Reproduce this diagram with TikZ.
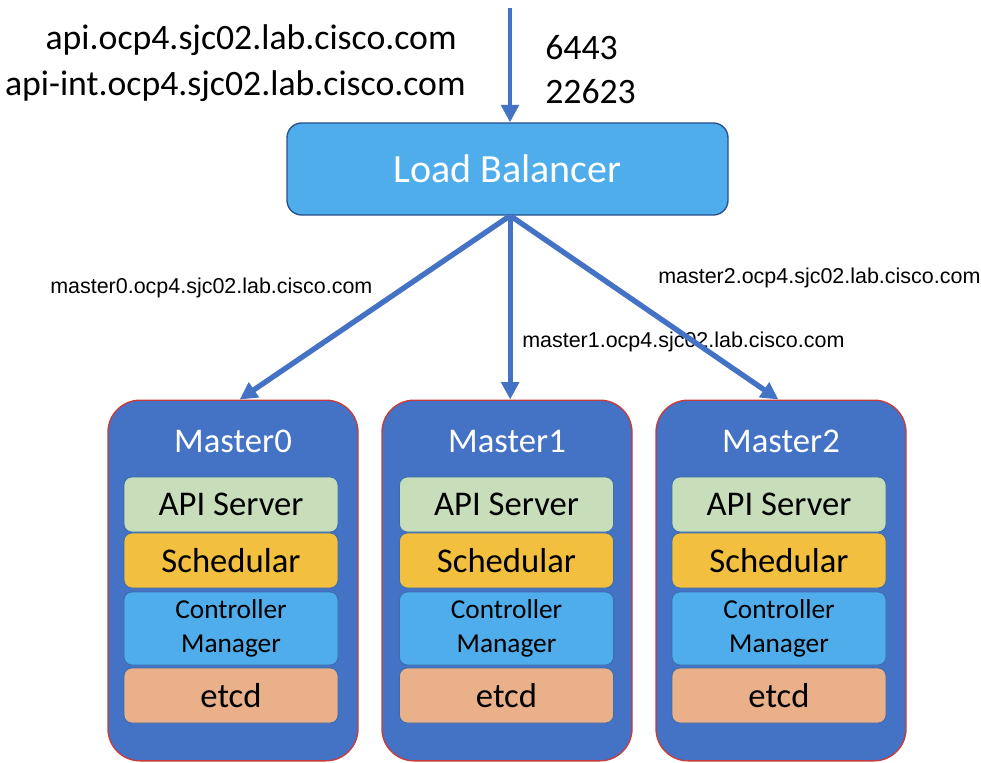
\documentclass[tikz,border=0pt]{standalone}
\usepackage{fontspec}
\setmainfont{Carlito}
\newfontfamily\arialf{Liberation Sans}
\usetikzlibrary{arrows.meta}
\definecolor{arrowblue}{RGB}{68,114,196}
\definecolor{lbfill}{RGB}{78,173,234}
\definecolor{lbdraw}{RGB}{40,80,140}
\definecolor{mfill}{RGB}{68,114,196}
\definecolor{mdraw}{RGB}{200,60,60}
\definecolor{apifill}{RGB}{200,221,186}
\definecolor{schfill}{RGB}{242,191,62}
\definecolor{etcdfill}{RGB}{233,176,138}
\definecolor{innerdraw}{RGB}{58,110,170}
\tikzset{
  conn/.style={draw=arrowblue, line width=4pt, -{Triangle[length=13pt,width=13pt]}},
  lbbox/.style={draw=lbdraw, line width=1pt, fill=lbfill, rounded corners=11pt, minimum width=330.75pt, minimum height=69pt, text=white, font=\fontsize{30}{32}\selectfont},
  mbox/.style={draw=mdraw, line width=1pt, fill=mfill, rounded corners=24pt, minimum width=187.5pt, minimum height=270.5pt},
  inbox/.style={draw=innerdraw, line width=0.6pt, rounded corners=6pt, minimum width=160.5pt, text=black, inner sep=0pt, align=center},
  big/.style={font=\fontsize{26}{28}\selectfont},
  alabel/.style={font=\arialf\fontsize{16.1}{18}\selectfont, inner sep=0pt, text=black},
  tlabel/.style={font=\fontsize{26.8}{28}\selectfont, inner sep=0pt, text=black}
}
\begin{document}
\begin{tikzpicture}[x=0.75pt,y=-0.75pt]
\useasboundingbox (0,0) rectangle (981,763);
\fill[white] (0,0) rectangle (981,763);
% Load balancer
\node[lbbox] (lb) at (507.5,169) {Load Balancer};
\coordinate (in) at (510,8);
% top labels
\node[tlabel, anchor=east] (dns1) at (457,40) {api.ocp4.sjc02.lab.cisco.com};
\node[tlabel, anchor=east] (dns2) at (466,86) {api-int.ocp4.sjc02.lab.cisco.com};
\node[tlabel, anchor=west] (p1) at (545,48) {6443};
\node[tlabel, anchor=west] (p2) at (545,92) {22623};
% masters
\foreach \i/\cx/\ix in {0/233/231,1/507/506.5,2/781/779}{
  \node[mbox] (m\i) at (\cx,580.5) {};
  \node[text=white, big, inner sep=0pt] (t\i) at (\cx,441) {Master\i};
  \node[inbox, fill=apifill, big, minimum height=41.25pt] (api\i) at (\ix,504.5) {API Server};
  \node[inbox, fill=schfill, big, minimum height=41.25pt] (sch\i) at (\ix,560.5) {Schedular};
  \node[inbox, fill=lbfill, font=\fontsize{20.5}{25.5}\selectfont, minimum height=54.75pt] (cm\i) at (\ix,628.5) {Controller\\Manager};
  \node[inbox, fill=etcdfill, big, minimum height=41.25pt] (etcd\i) at (\ix,695.5) {etcd};
}
% arrow labels
\node[alabel, anchor=west] (l0) at (50,288) {master0.ocp4.sjc02.lab.cisco.com};
\node[alabel, anchor=west] (l1) at (522,342) {master1.ocp4.sjc02.lab.cisco.com};
\node[alabel, anchor=west] (l2) at (658,278) {master2.ocp4.sjc02.lab.cisco.com};
% connectors
\draw[conn, line width=3pt] (in) -- (lb.north -| in);
\coordinate (lbs) at ([xshift=2pt]lb.south);
\draw[conn] (lbs) -- ([xshift=5pt]m0.north);
\draw[conn] (lbs) -- (m1.north -| lbs);
\draw[conn] (lbs) -- ([xshift=-2pt]m2.north);
\end{tikzpicture}
\end{document}
